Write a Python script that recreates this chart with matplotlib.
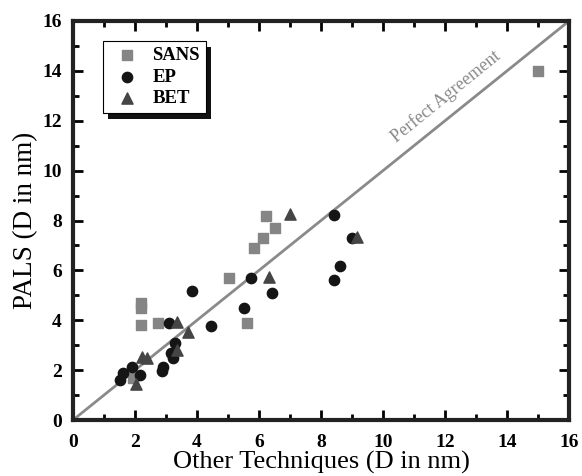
import matplotlib
matplotlib.use("Agg")
import matplotlib.pyplot as plt
from matplotlib.patches import Rectangle
from matplotlib.ticker import MultipleLocator

# SANS (squares)
sans_x = [2.2, 2.2, 2.2, 2.75, 1.95, 5.04, 5.62, 5.83, 6.12, 6.23, 6.53, 15.0]
sans_y = [4.7, 4.5, 3.8, 3.9, 1.7, 5.7, 3.9, 6.9, 7.3, 8.2, 7.7, 14.0]

# EP (circles)
ep_x = [1.52, 1.62, 1.89, 2.16, 2.86, 2.89, 3.15, 3.24, 3.29, 3.1, 3.83, 4.44,
        5.52, 5.73, 6.43, 8.43, 8.61, 8.42, 8.99]
ep_y = [1.6, 1.87, 2.14, 1.8, 1.98, 2.14, 2.7, 2.47, 3.07, 3.88, 5.17, 3.78,
        4.48, 5.68, 5.08, 5.61, 6.17, 8.22, 7.28]

# BET (triangles)
bet_x = [2.03, 2.24, 2.4, 3.37, 3.34, 3.72, 6.32, 7.0, 9.15]
bet_y = [1.44, 2.54, 2.5, 2.8, 3.94, 3.54, 5.72, 8.26, 7.35]

serif = ["Liberation Serif", "DejaVu Serif"]

fig = plt.figure(figsize=(5.82, 4.76), dpi=100)
ax = fig.add_axes([0.1254, 0.1176, 0.8523, 0.8383])

ax.plot([0, 16], [0, 16], color="#8a8a8a", lw=2, zorder=1)
ax.text(12.2, 12.7, "Perfect Agreement", rotation=39, rotation_mode="anchor",
        ha="center", va="bottom", color="#8a8a8a", fontsize=13, family=serif)

ax.scatter(sans_x, sans_y, marker="s", s=45, color="#858585", label="SANS", zorder=3)
ax.scatter(ep_x, ep_y, marker="o", s=55, color="#151515", label="EP", zorder=3)
ax.scatter(bet_x, bet_y, marker="^", s=65, color="#454545", label="BET", zorder=3)

ax.set_xlim(0, 16)
ax.set_ylim(0, 16)
ax.xaxis.set_major_locator(MultipleLocator(2))
ax.yaxis.set_major_locator(MultipleLocator(2))
ax.xaxis.set_minor_locator(MultipleLocator(1))
ax.yaxis.set_minor_locator(MultipleLocator(1))
ax.tick_params(which="both", direction="in", top=True, right=True, width=2)
ax.tick_params(which="major", length=7, labelsize=14)
ax.tick_params(axis="x", which="major", pad=10)
ax.tick_params(axis="y", which="major", pad=8)
ax.tick_params(which="minor", length=4)
for lab in ax.get_xticklabels() + ax.get_yticklabels():
    lab.set_family(serif)
    lab.set_fontweight("bold")
for sp in ax.spines.values():
    sp.set_linewidth(3)
    sp.set_color("#222222")

ax.set_xlabel("Other Techniques (D in nm)", fontsize=19, family=serif, labelpad=0)
ax.set_ylabel("PALS (D in nm)", fontsize=19.5, family=serif, labelpad=3)

leg = ax.legend(loc="upper left", bbox_to_anchor=(0.06, 0.95), borderaxespad=0,
                frameon=True, fancybox=False, edgecolor="black",
                handlelength=2.0, handletextpad=0.35, borderpad=0.3,
                labelspacing=0.25, framealpha=1,
                prop={"family": serif, "weight": "bold", "size": 13.5})
leg.get_frame().set_linewidth(0.8)
leg.set_zorder(6)

# solid drop shadow behind the legend box
fig.canvas.draw()
bb = leg.get_window_extent().transformed(ax.transAxes.inverted())
dx, dy = 5 / 496, 6 / 400
ax.add_patch(Rectangle((bb.x0 + dx, bb.y0 - dy), bb.width, bb.height,
                       transform=ax.transAxes, facecolor="#111111",
                       edgecolor="none", zorder=5.5))

fig.savefig("out.png", dpi=100)
